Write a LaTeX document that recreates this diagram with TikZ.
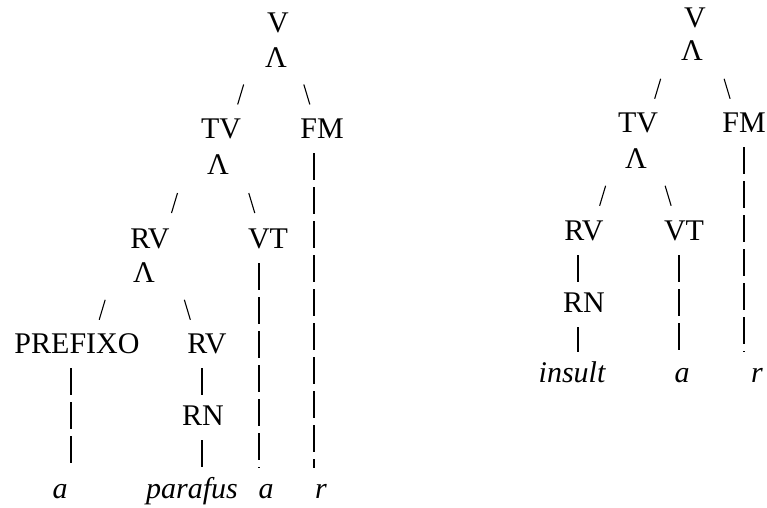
\documentclass[tikz,border=0pt]{standalone}
\usepackage{fontspec}
\setmainfont{Liberation Serif}
\usetikzlibrary{decorations.markings}
\tikzset{
    every node/.style = {font=\fontsize{30}{36}\selectfont, inner sep=0pt, text height=20pt, text depth=6pt, anchor=base},
    word/.style = {font=\fontsize{30}{36}\selectfont\itshape},
    lbranch/.style = {postaction={decorate}, decoration={markings, mark=at position .655 with {\pgftransformresetnontranslations \draw[line width=1.1pt] (3pt,10pt) -- (-3pt,-10pt);}}},
    rbranch/.style = {postaction={decorate}, decoration={markings, mark=at position .655 with {\pgftransformresetnontranslations \draw[line width=1.1pt] (-3pt,10pt) -- (3pt,-10pt);}}},
    stem/.style = {draw, line width=1.1pt, dash pattern=on 27pt off 7pt, shorten <=9pt, shorten >=10pt}
}
\begin{document}
\begin{tikzpicture}[x=1pt, y=-1pt]
        \useasboundingbox (0,0) rectangle (767,507);
        % left tree
        \node (lV) at (278,32) {V};
        \node (lVfork) at (276,67) {Λ};
        \node (lTV) at (221,138) {TV};
        \node (lFM) at (322,138) {FM};
        \node (lTVfork) at (218,174) {Λ};
        \node (lRV) at (150,248) {RV};
        \node (lVT) at (268,248) {VT};
        \node (lRVfork) at (144,282) {Λ};
        \node (lPRE) at (77,353) {PREFIXO};
        \node (lRVb) at (207,353) {RV};
        \node (lRN) at (203,425) {RN};
        \node[word] (la) at (60,498) {a};
        \node[word] (lparafus) at (192,498) {parafus};
        \node[word] (lat) at (266,498) {a};
        \node[word] (lr) at (321,498) {r};
        % right tree
        \node (rV) at (695,27) {V};
        \node (rVfork) at (692,60) {Λ};
        \node (rTV) at (638,132) {TV};
        \node (rFM) at (744,132) {FM};
        \node (rTVfork) at (636,168) {Λ};
        \node (rRV) at (584,240) {RV};
        \node (rVT) at (684,240) {VT};
        \node (rRN) at (584,312) {RN};
        \node[word] (rinsult) at (572,382) {insult};
        \node[word] (ra) at (682,382) {a};
        \node[word] (rr) at (757,382) {r};
        \foreach \p/\c in {lV/lTV, lTV/lRV, lRV/lPRE, rV/rTV, rTV/rRV}{
            \path[lbranch] (\p.center) -- (\c.center);
        }
        \foreach \p/\c in {lV/lFM, lTV/lVT, lRV/lRVb, rV/rFM, rTV/rVT}{
            \path[rbranch] (\p.center) -- (\c.center);
        }
        \foreach \a/\b/\s in {lPRE/la/-6pt, lRVb/lRN/-5pt, lRN/lparafus/-1pt, lVT/lat/-9pt, lFM/lr/-8pt, rRV/rRN/-6pt, rRN/rinsult/-6pt, rVT/ra/-5pt, rFM/rr/0pt}{
            \draw[stem] ([xshift=\s]\a.south) -- ([xshift=\s]\a.south |- \b.north);
        }
    \end{tikzpicture}
\end{document}
